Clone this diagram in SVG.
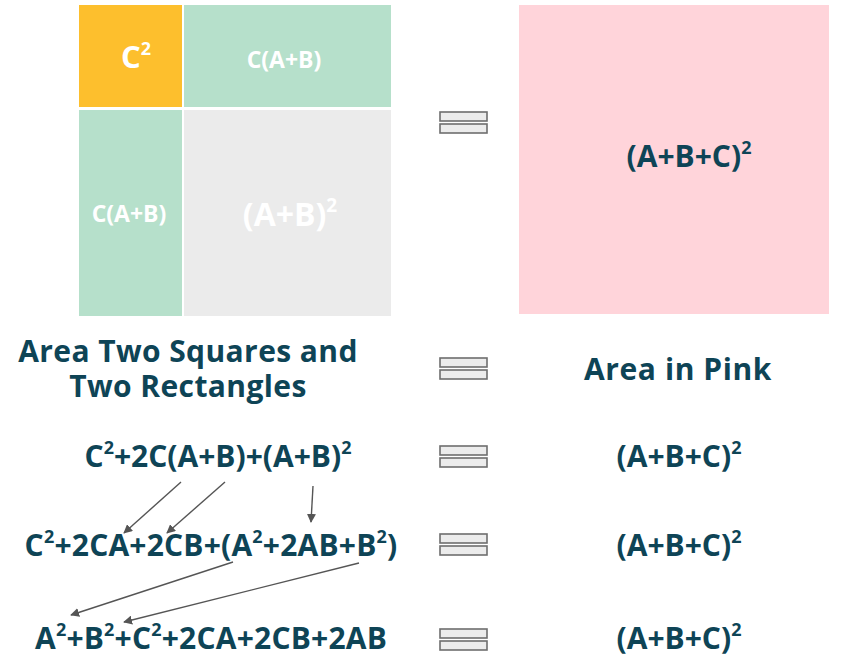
<svg xmlns="http://www.w3.org/2000/svg" width="842" height="656" viewBox="0 0 842 656">
<defs>
<style>
.t{font-family:"Open Sans","Noto Sans",sans-serif;font-weight:700;fill:#0e4456;text-anchor:middle}
.w{font-family:"Open Sans","Noto Sans",sans-serif;font-weight:700;fill:#ffffff;text-anchor:middle}
.eq{fill:#ececec;stroke:#6e6e6e;stroke-width:1.6}
.ar{stroke:#555555;stroke-width:1.4;fill:none;marker-end:url(#ah)}
</style>
<marker id="ah" viewBox="0 0 10 10" refX="9" refY="5" markerWidth="9" markerHeight="9" markerUnits="userSpaceOnUse" orient="auto">
<path d="M0,0 L10,5 L0,10 z" fill="#555555"/>
</marker>
</defs>
<rect width="842" height="656" fill="#ffffff"/>
<g id="square-c2"><rect x="79" y="5" width="103" height="102" fill="#fdbf2d"/><text class="w" x="136" y="68" font-size="31">C<tspan font-size="18" dy="-13">2</tspan></text></g>
<g id="rect-top"><rect x="184" y="5" width="207" height="102" fill="#b6e0cb"/><text class="w" x="284" y="68" font-size="23">C(A+B)</text></g>
<g id="rect-left"><rect x="79" y="110" width="103" height="206" fill="#b6e0cb"/><text class="w" x="129" y="222" font-size="23">C(A+B)</text></g>
<g id="square-ab"><rect x="184" y="110" width="207" height="206" fill="#ebebeb"/><text class="w" x="290" y="226" font-size="32">(A+B)<tspan font-size="19" dy="-14">2</tspan></text></g>
<g id="square-pink"><rect x="519" y="5" width="310" height="309" fill="#ffd4da"/><text class="t" x="689" y="167" font-size="30">(A+B+C)<tspan font-size="18" dy="-13">2</tspan></text></g>
<g id="eq1"><rect class="eq" x="440" y="112" width="47" height="9"/><rect class="eq" x="440" y="124" width="47" height="9"/></g>
<g id="eq2"><rect class="eq" x="440" y="358" width="47" height="9"/><rect class="eq" x="440" y="370" width="47" height="9"/></g>
<g id="eq3"><rect class="eq" x="440" y="446" width="47" height="9"/><rect class="eq" x="440" y="458" width="47" height="9"/></g>
<g id="eq4"><rect class="eq" x="440" y="534" width="47" height="9"/><rect class="eq" x="440" y="546" width="47" height="9"/></g>
<g id="eq5"><rect class="eq" x="440" y="629" width="47" height="9"/><rect class="eq" x="440" y="641" width="47" height="9"/></g>
<g id="label-left"><text class="t" x="188" y="362" font-size="30" letter-spacing="0.4">Area Two Squares and</text><text class="t" x="188" y="397" font-size="30" letter-spacing="0.4">Two Rectangles</text></g>
<g id="label-right"><text class="t" x="678" y="380" font-size="30" letter-spacing="0.6">Area in Pink</text></g>
<g id="row3-left"><text class="t" x="218" y="467" font-size="30">C<tspan font-size="18" dy="-13">2</tspan><tspan dy="13">+2C(A+B)+(A+B)</tspan><tspan font-size="18" dy="-13">2</tspan></text></g>
<g id="row3-right"><text class="t" x="679" y="467" font-size="30">(A+B+C)<tspan font-size="18" dy="-13">2</tspan></text></g>
<g id="row4-left"><text class="t" x="211" y="556" font-size="30" letter-spacing="0.2">C<tspan font-size="18" dy="-13">2</tspan><tspan dy="13">+2CA+2CB+(A</tspan><tspan font-size="18" dy="-13">2</tspan><tspan dy="13">+2AB+B</tspan><tspan font-size="18" dy="-13">2</tspan><tspan dy="13">)</tspan></text></g>
<g id="row4-right"><text class="t" x="679" y="556" font-size="30">(A+B+C)<tspan font-size="18" dy="-13">2</tspan></text></g>
<g id="row5-left"><text class="t" x="211" y="649" font-size="30" letter-spacing="0.2">A<tspan font-size="18" dy="-13">2</tspan><tspan dy="13">+B</tspan><tspan font-size="18" dy="-13">2</tspan><tspan dy="13">+C</tspan><tspan font-size="18" dy="-13">2</tspan><tspan dy="13">+2CA+2CB+2AB</tspan></text></g>
<g id="row5-right"><text class="t" x="679" y="649" font-size="30">(A+B+C)<tspan font-size="18" dy="-13">2</tspan></text></g>
<g id="connectors">
<line class="ar" x1="181" y1="482" x2="124" y2="533"/>
<line class="ar" x1="225" y1="482" x2="167" y2="533"/>
<line class="ar" x1="313" y1="486" x2="311" y2="522"/>
<line class="ar" x1="233" y1="562" x2="71" y2="615"/>
<line class="ar" x1="359" y1="563" x2="124" y2="622"/>
</g>
</svg>
